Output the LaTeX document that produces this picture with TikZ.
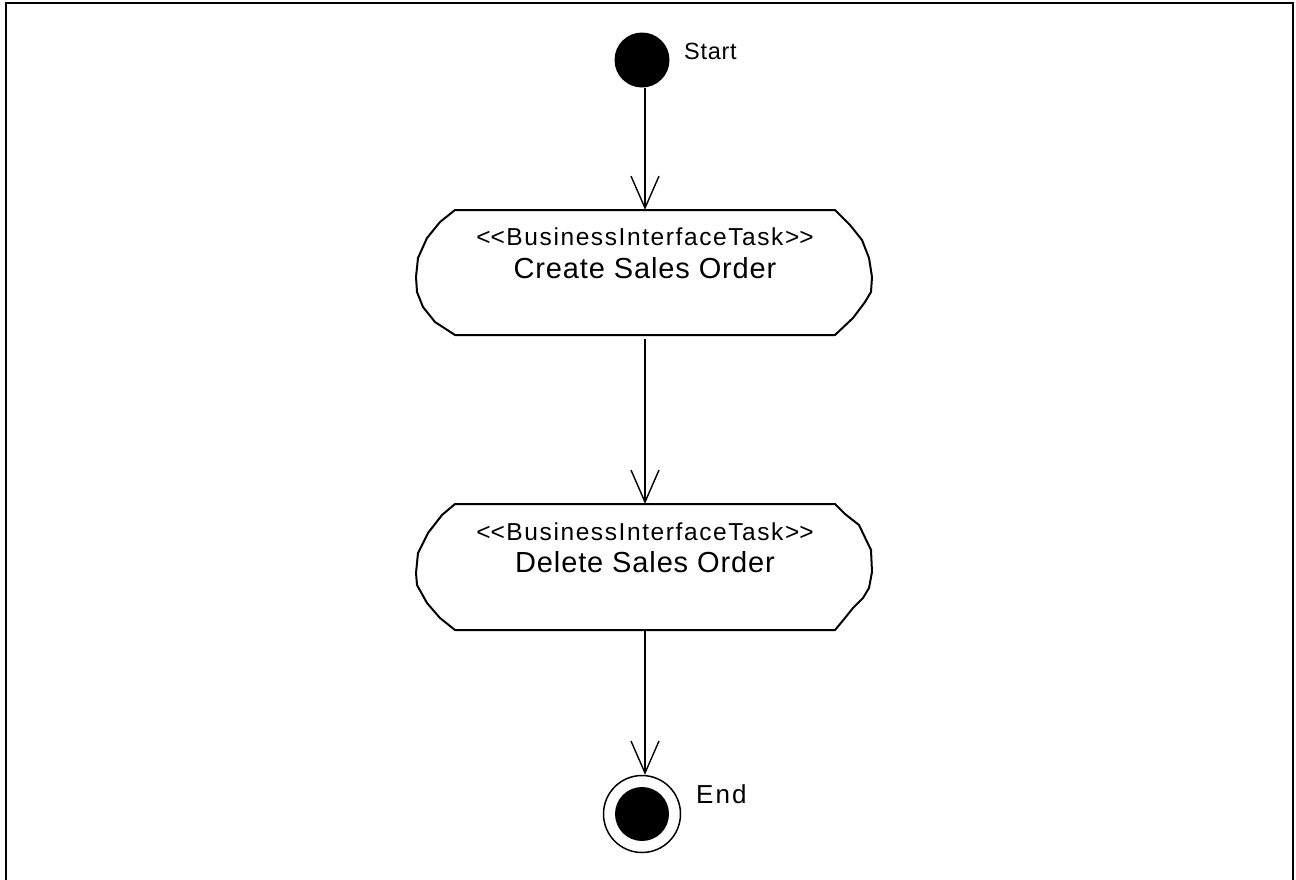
\documentclass[tikz,border=0pt]{standalone}
\usepackage{fontspec}
\setmainfont{Liberation Sans}
\usetikzlibrary{arrows.meta}

% stereotype brackets kept as two separate characters
\newcommand{\stOpen}{<\kern0pt<}
\newcommand{\stClose}{>\kern0pt>}

\begin{document}
\begin{tikzpicture}[x=1pt,y=-1pt,
  flow/.style={line width=1.4pt,
    -{Straight Barb[length=32pt,width=28pt,line width=1.4pt]}},
  outline/.style={line width=2pt, line join=round},
  taskbox/.style={rectangle, inner sep=0pt, minimum width=456pt},
  stereo/.style={anchor=base, inner sep=0pt,
    font=\fontsize{24.5}{29}\selectfont\addfontfeature{LetterSpace=6.5}},
  taskname/.style={anchor=base, inner sep=0pt,
    font=\fontsize{29}{34}\selectfont\addfontfeature{LetterSpace=3}},
  statelbl/.style={anchor=base west, inner sep=0pt},
  initial/.style={circle, fill=black, inner sep=0pt, minimum size=55pt},
  final/.style={circle, draw=black, line width=1.5pt, inner sep=0pt, minimum size=77pt},
  finalcore/.style={circle, fill=black, inner sep=0pt, minimum size=54pt}
]
\useasboundingbox (0,0) rectangle (1296,879);

% diagram frame
\draw[line width=2pt] (5.5,3) rectangle (1293,884);

% start state
\node[initial] (start) at (642,60) {};
\node[statelbl, font=\fontsize{23.5}{27}\selectfont\addfontfeature{LetterSpace=3}] (startlbl) at (684,59) {Start};

% first task
\node[taskbox, minimum height=125pt] (t1) at (645,272.5) {};
\begin{scope}[shift={(t1.center)}]
  \draw[outline] (-190,-62.5) -- (190,-62.5) -- (205,-47.5) -- (217,-32.5)
    -- (224,-14.5) -- (227,4.5) -- (226,19.5) -- (220,29.5) -- (208,45.5)
    -- (190,62.5) -- (-190,62.5) -- (-210,49.5) -- (-222,34.5) -- (-228,19.5)
    -- (-229,4.5) -- (-227,-14.5) -- (-218,-34.5) -- (-205,-50.5) -- cycle;
\end{scope}
\node[stereo] (t1s) at (645,245) {\stOpen BusinessInterfaceTask\stClose};
\node[taskname] (t1n) at (645,278) {Create Sales Order};

% second task
\node[taskbox, minimum height=126pt] (t2) at (645,567) {};
\begin{scope}[shift={(t2.center)}]
  \draw[outline] (-190,-63) -- (190,-63) -- (200,-53) -- (214,-42) -- (226,-17)
    -- (227,5) -- (224,21) -- (218,31) -- (208,41) -- (200,51) -- (190,63)
    -- (-190,63) -- (-205,51) -- (-218,36) -- (-228,18) -- (-229,6)
    -- (-227,-14) -- (-217,-34) -- (-203,-52) -- cycle;
\end{scope}
\node[stereo] (t2s) at (645,540) {\stOpen BusinessInterfaceTask\stClose};
\node[taskname] (t2n) at (645,572) {Delete Sales Order};

% end state
\node[final] (end) at (642,814) {};
\node[finalcore] (endcore) at (end.center) {};
\node[statelbl, font=\fontsize{26}{30}\selectfont\addfontfeature{LetterSpace=8}] (endlbl) at (696,803) {End};

% transitions
\draw[flow] (start.south -| t1.north) -- (t1.north);
\draw[flow, shorten <=4pt] (t1.south) -- (t2.north);
\draw[flow] (t2.south) -- (end.north -| t2.south);
\end{tikzpicture}
\end{document}
